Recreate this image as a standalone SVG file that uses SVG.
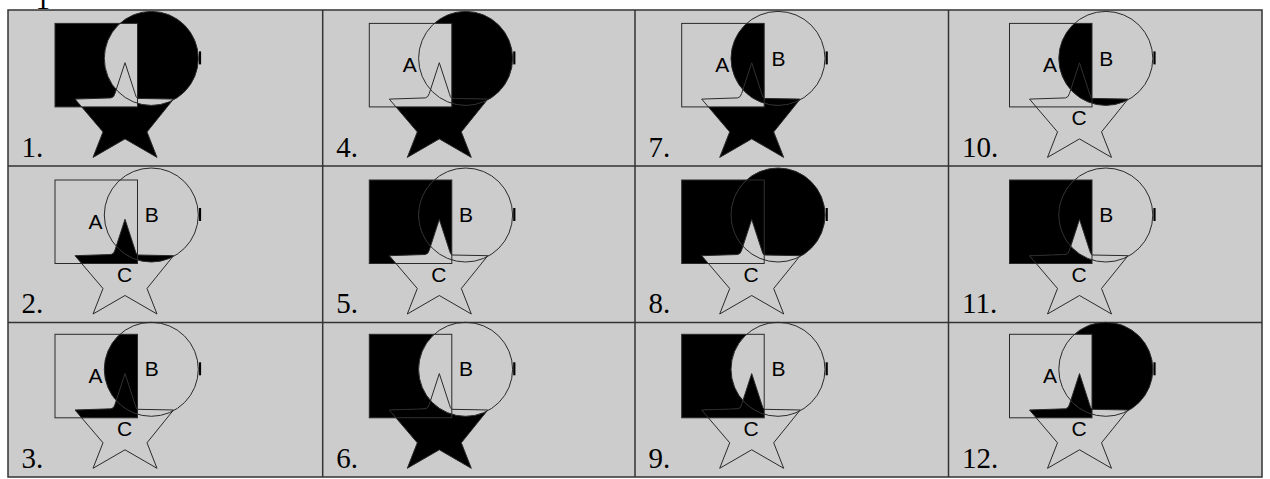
<svg xmlns="http://www.w3.org/2000/svg" xmlns:xlink="http://www.w3.org/1999/xlink" width="1270" height="479" viewBox="0 0 1270 479">
<style>
.ol{fill:none;stroke:#2a2a2a;stroke-width:1}
.tick{stroke:#000;stroke-width:2.2}
.lbl{font-family:"Liberation Sans",Arial,sans-serif;font-size:21px;fill:#000}
.num{font-family:"Liberation Serif","Times New Roman",serif;font-size:29px;fill:#000}
.grid{stroke:#333;stroke-width:1.5;fill:none}
</style>
<defs>
<rect id="sqShape" x="0" y="0" width="82.5" height="83.5"/>
<circle id="ciShape" cx="96.3" cy="35" r="47"/>
<path id="stShape" d="M20 75.7 L56 74.5 Q59 74 60 70 L70 39.3 L80 70 Q81 74 82.5 75 L118.5 75.7 L92 108.5 L102 134 L70 115.5 L38 134 L48 108.5 Z"/>
<clipPath id="cB"><use href="#ciShape"/></clipPath>
<clipPath id="cC"><use href="#stShape"/></clipPath>
<mask id="nA" maskUnits="userSpaceOnUse" x="-60" y="-60" width="320" height="260"><rect x="-60" y="-60" width="320" height="260" fill="#fff"/><use href="#sqShape" fill="#000"/></mask>
<mask id="nB" maskUnits="userSpaceOnUse" x="-60" y="-60" width="320" height="260"><rect x="-60" y="-60" width="320" height="260" fill="#fff"/><use href="#ciShape" fill="#000"/></mask>
<mask id="nC" maskUnits="userSpaceOnUse" x="-60" y="-60" width="320" height="260"><rect x="-60" y="-60" width="320" height="260" fill="#fff"/><use href="#stShape" fill="#000"/></mask>
<g id="rA"><g mask="url(#nB)"><g mask="url(#nC)"><use href="#sqShape"/></g></g></g>
<g id="rB"><g mask="url(#nA)"><g mask="url(#nC)"><use href="#ciShape"/></g></g></g>
<g id="rC"><g mask="url(#nA)"><g mask="url(#nB)"><use href="#stShape"/></g></g></g>
<g id="rAB"><g mask="url(#nC)"><g clip-path="url(#cB)"><use href="#sqShape"/></g></g></g>
<g id="rAC"><g mask="url(#nB)"><g clip-path="url(#cC)"><use href="#sqShape"/></g></g></g>
<g id="rBC"><g mask="url(#nA)"><g clip-path="url(#cC)"><use href="#ciShape"/></g></g></g>
<g id="rABC"><g clip-path="url(#cB)"><g clip-path="url(#cC)"><use href="#sqShape"/></g></g></g>
<g id="outline">
<use href="#sqShape" class="ol"/>
<use href="#ciShape" class="ol"/>
<use href="#stShape" class="ol"/>
<line x1="145" y1="28" x2="145" y2="41" class="tick"/>
<text x="40.5" y="48.8" class="lbl" text-anchor="middle">A</text>
<text x="96.7" y="42.2" class="lbl" text-anchor="middle">B</text>
<text x="69.5" y="102" class="lbl" text-anchor="middle">C</text>
</g>
</defs>
<rect x="0" y="0" width="1270" height="479" fill="#fff"/>
<g id="table">
<rect x="8" y="10" width="1254" height="467" fill="#cccccc"/>
<rect x="8" y="10" width="1254" height="467" class="grid"/>
<line x1="8" y1="166" x2="1262" y2="166" class="grid"/>
<line x1="8" y1="322.5" x2="1262" y2="322.5" class="grid"/>
<line x1="322.7" y1="10" x2="322.7" y2="477" class="grid"/>
<line x1="635" y1="10" x2="635" y2="477" class="grid"/>
<line x1="948.5" y1="10" x2="948.5" y2="477" class="grid"/>
</g>
<text x="35.5" y="9" class="num" font-size="8px">1</text>
<g id="labels">
<text x="21.5" y="156.7" class="num">1.</text>
<text x="336.2" y="156.7" class="num">4.</text>
<text x="648.5" y="156.7" class="num">7.</text>
<text x="962" y="156.7" class="num">10.</text>
<text x="21.5" y="313.3" class="num">2.</text>
<text x="336.2" y="313.3" class="num">5.</text>
<text x="648.5" y="313.3" class="num">8.</text>
<text x="962" y="313.3" class="num">11.</text>
<text x="21.5" y="468.3" class="num">3.</text>
<text x="336.2" y="468.3" class="num">6.</text>
<text x="648.5" y="468.3" class="num">9.</text>
<text x="962" y="468.3" class="num">12.</text>
</g>
<g id="fig1" transform="translate(55,23.4)"><use href="#rA"/><use href="#rB"/><use href="#rC"/><use href="#outline"/></g>
<g id="fig4" transform="translate(369.3,23.4)"><use href="#rB"/><use href="#rC"/><use href="#rBC"/><use href="#outline"/></g>
<g id="fig7" transform="translate(681.7,23.4)"><use href="#rAB"/><use href="#rABC"/><use href="#rC"/><use href="#rBC"/><use href="#outline"/></g>
<g id="fig10" transform="translate(1009.5,23.4)"><use href="#rAB"/><use href="#rABC"/><use href="#rBC"/><use href="#outline"/></g>
<g id="fig2" transform="translate(55,180)"><use href="#rAC"/><use href="#rBC"/><use href="#rABC"/><use href="#outline"/></g>
<g id="fig5" transform="translate(369.3,180)"><use href="#rA"/><use href="#rAB"/><use href="#outline"/></g>
<g id="fig8" transform="translate(681.7,180)"><use href="#rA"/><use href="#rB"/><use href="#rAB"/><use href="#outline"/></g>
<g id="fig11" transform="translate(1009.5,180)"><use href="#rA"/><use href="#rAB"/><use href="#rAC"/><use href="#outline"/></g>
<g id="fig3" transform="translate(55,334.3)"><use href="#rAB"/><use href="#rABC"/><use href="#rAC"/><use href="#outline"/></g>
<g id="fig6" transform="translate(369.3,334.3)"><use href="#rA"/><use href="#rC"/><use href="#rAC"/><use href="#outline"/></g>
<g id="fig9" transform="translate(681.7,334.3)"><use href="#rA"/><use href="#rAC"/><use href="#rABC"/><use href="#outline"/></g>
<g id="fig12" transform="translate(1009.5,334.3)"><use href="#rB"/><use href="#rAC"/><use href="#rABC"/><use href="#outline"/></g>
</svg>
